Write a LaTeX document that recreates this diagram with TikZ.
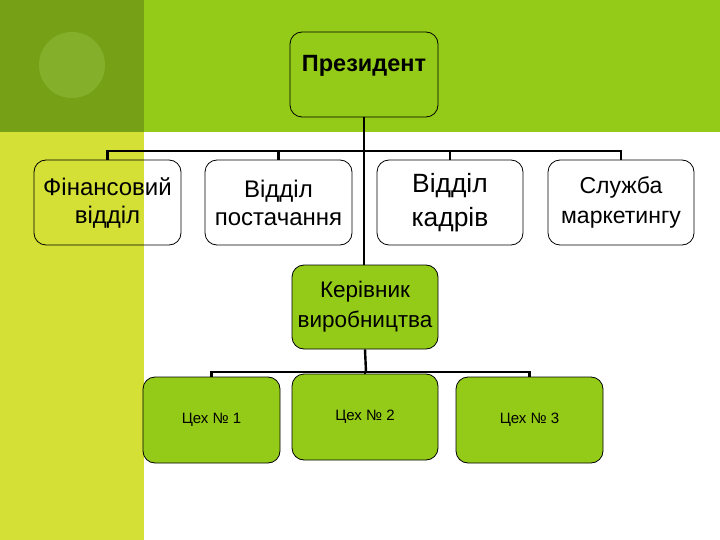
\documentclass[tikz,border=0pt]{standalone}
\usepackage{fontspec}
\setmainfont{Liberation Sans}
\begin{document}
\begin{tikzpicture}[x=1pt,y=-1pt,
  box/.style={draw=black,line width=0.8pt,rounded corners=12pt,inner sep=0pt,align=center},
  gbox/.style={box,fill=bandgreen},
  conn/.style={draw=black,line width=2.4pt}]
\definecolor{darkgreen}{HTML}{76A116}
\definecolor{bandgreen}{HTML}{93CB18}
\definecolor{stripyellow}{HTML}{D4E036}
\definecolor{circgreen}{HTML}{84AF2B}
\useasboundingbox (0,0) rectangle (720,540);
% background
\fill[white] (0,0) rectangle (720,540);
\fill[darkgreen] (0,0) rectangle (144,132);
\fill[bandgreen] (144,0) rectangle (720,132);
\fill[stripyellow] (0,132) rectangle (144,540);
\fill[circgreen] (72,65) circle (33);
% nodes
\node[gbox,minimum width=148pt,minimum height=85pt,font=\bfseries\fontsize{23.5}{26}\selectfont] (pres) at (364,74.5) {\raisebox{22pt}{Президент}};
\node[box,minimum width=147pt,minimum height=85pt,font=\fontsize{24}{28}\selectfont] (fin) at (107.5,202.5) {\raisebox{-3pt}{Фінансовий}\\\raisebox{-3pt}{відділ}};
\node[box,minimum width=147pt,minimum height=85pt,font=\fontsize{24}{28}\selectfont] (post) at (278.5,202.5) {Відділ\\постачання};
\node[box,minimum width=146pt,minimum height=85pt,font=\fontsize{26.4}{34}\selectfont] (kad) at (450,202.5) {Відділ\\кадрів};
\node[box,minimum width=146pt,minimum height=85pt,font=\fontsize{23}{30}\selectfont] (mark) at (621,202.5) {\raisebox{-2pt}{Служба}\\\raisebox{-2pt}{маркетингу}};
\node[gbox,minimum width=146pt,minimum height=84pt,font=\fontsize{22.5}{30}\selectfont] (ker) at (365,307) {Керівник\\виробництва};
\node[gbox,minimum width=137pt,minimum height=86pt,font=\fontsize{15}{17}\selectfont] (c1) at (211.5,420) {Цех № 1};
\node[gbox,minimum width=146pt,minimum height=86pt,font=\fontsize{15}{17}\selectfont] (c2) at (365,417) {\raisebox{3pt}{Цех № 2}};
\node[gbox,minimum width=147pt,minimum height=86pt,font=\fontsize{15}{17}\selectfont] (c3) at (529.5,420) {Цех № 3};
% connectors
\coordinate (bus1) at (364,151);
\coordinate (bus2) at (366,372);
\draw[conn] (pres.south) -- (pres.south |- ker.north);
\draw[conn] (fin.north) |- (mark.north |- bus1) -- (mark.north);
\draw[conn] (post.north) -- (post.north |- bus1);
\draw[conn] (kad.north) -- (kad.north |- bus1);
\draw[conn] (ker.south) -- (bus2);
\draw[conn] (c1.north) |- (c3.north |- bus2) -- (c3.north);
\draw[conn] (c2.north) -- (c2.north |- bus2);
\end{tikzpicture}
\end{document}
